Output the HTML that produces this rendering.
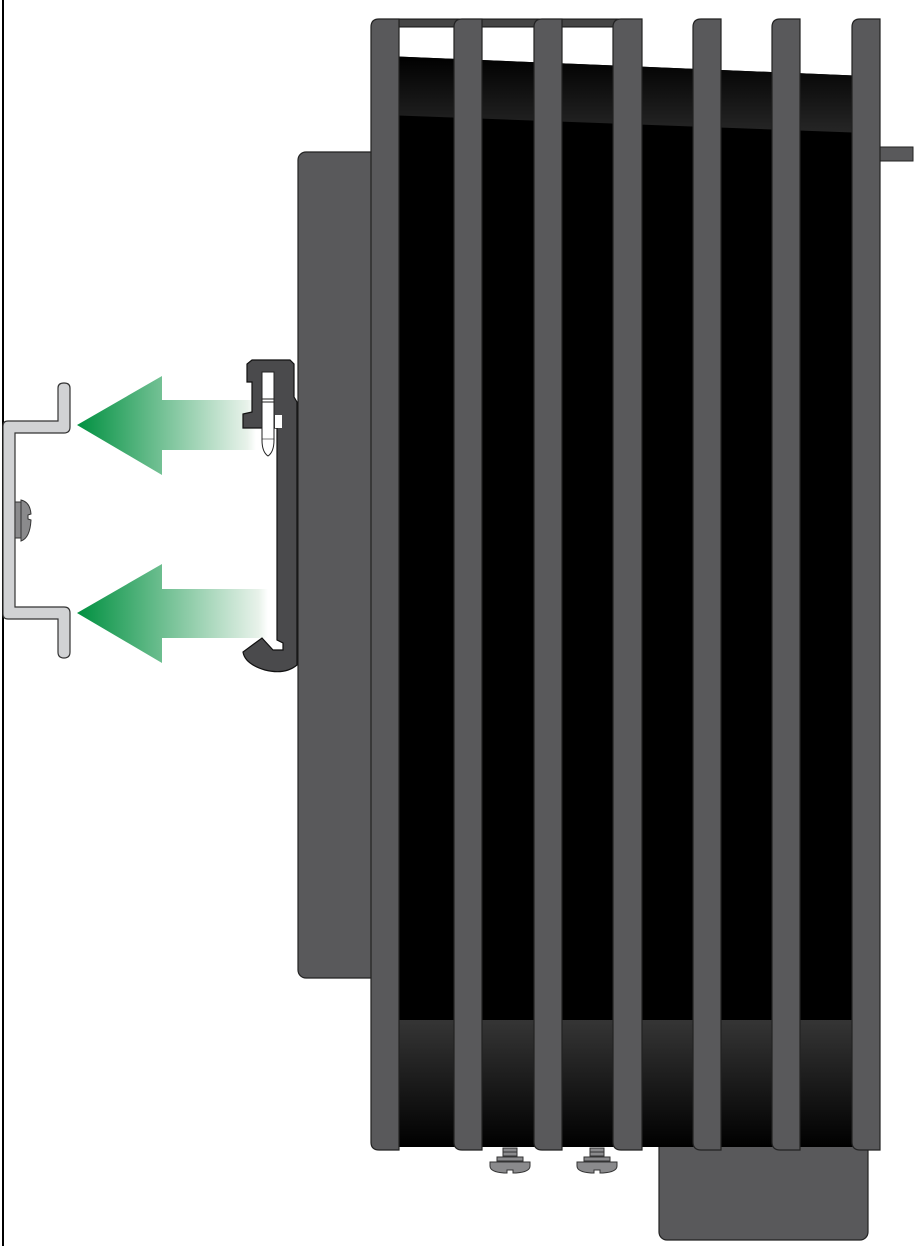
<!DOCTYPE html>
<html><head><style>html,body{margin:0;padding:0;background:#fff}svg{display:block}</style></head>
<body>
<svg width="914" height="1246" viewBox="0 0 914 1246" xmlns="http://www.w3.org/2000/svg">
<defs>
<linearGradient id="ga" x1="1" y1="0" x2="0" y2="0">
<stop offset="0" stop-color="#fff" stop-opacity="1"/>
<stop offset="0.05" stop-color="#e8f2ea"/>
<stop offset="1" stop-color="#009040"/>
</linearGradient>
<linearGradient id="gt" x1="0" y1="0" x2="0" y2="1">
<stop offset="0" stop-color="#000"/><stop offset="1" stop-color="#262626"/>
</linearGradient>
<linearGradient id="gb" x1="0" y1="0" x2="0" y2="1">
<stop offset="0" stop-color="#353535"/><stop offset="1" stop-color="#000"/>
</linearGradient>
</defs>
<!-- wall line -->
<rect x="2" y="0" width="2" height="1246" fill="#000"/>
<!-- bottom block -->
<rect x="659" y="1130" width="209" height="110" rx="8" fill="#59595b" stroke="#222" stroke-width="1.2"/>
<!-- body black -->
<polygon points="385,56 866,76 866,1147 385,1147" fill="#000"/>
<polygon points="385,56 866,76 866,133 385,115" fill="url(#gt)"/>
<rect x="385" y="1020" width="481" height="127" fill="url(#gb)"/>
<!-- top bar -->
<rect x="380" y="19" width="260" height="8" fill="#444" stroke="#111" stroke-width="1"/>
<!-- left plate -->
<rect x="298" y="152" width="80" height="826" rx="8" fill="#59595b" stroke="#222" stroke-width="1.2"/>
<!-- tab -->
<rect x="872" y="147" width="41" height="14" fill="#59595b" stroke="#222" stroke-width="1"/>
<!-- fins -->
<g fill="#59595b" stroke="#222" stroke-width="1.2">
<path d="M371,1140 V27 Q371,19 379,19 H399 V1150 H379 Q371,1150 371,1142Z"/>
<path d="M454,1140 V27 Q454,19 462,19 H482 V1150 H462 Q454,1150 454,1142Z"/>
<path d="M534,1140 V27 Q534,19 542,19 H562 V1150 H542 Q534,1150 534,1142Z"/>
<path d="M613,1140 V27 Q613,19 621,19 H642 V1150 H621 Q613,1150 613,1142Z"/>
<path d="M693,1140 V27 Q693,19 701,19 H721 V1150 H701 Q693,1150 693,1142Z"/>
<path d="M772,1140 V27 Q772,19 780,19 H800 V1150 H780 Q772,1150 772,1142Z"/>
<path d="M852,1140 V27 Q852,19 860,19 H880 V1150 H860 Q852,1150 852,1142Z"/>
</g>
<!-- screws -->
<g fill="#8a8a8c" stroke="#333" stroke-width="1">
<rect x="503" y="1148" width="14" height="4"/><rect x="503" y="1152" width="14" height="4"/>
<rect x="497" y="1157" width="26" height="4"/>
<path d="M490,1162 H530 V1166 Q530,1172 516,1173 H513 V1170 H507 V1173 H504 Q490,1172 490,1166Z"/>
<rect x="590" y="1148" width="14" height="4"/><rect x="590" y="1152" width="14" height="4"/>
<rect x="584" y="1157" width="26" height="4"/>
<path d="M577,1162 H617 V1166 Q617,1172 603,1173 H600 V1170 H594 V1173 H591 Q577,1172 577,1166Z"/>
</g>
<!-- DIN rail -->
<path d="M58,388 Q58,383 64,383 Q70,383 70,388 V427 Q70,433 64,433 H15 V607 H64 Q70,607 70,613 V652 Q70,658 64,658 Q58,658 58,652 V619 H8 Q3,619 3,614 V426 Q3,421 8,421 H58Z" fill="#d1d2d4" stroke="#333" stroke-width="1.2"/>
<!-- rail screw -->
<rect x="15" y="502" width="6" height="36" fill="#8a8a8c" stroke="#333" stroke-width="1"/>
<path d="M21,500 Q30,502 31,514 L28,515 V519 L31,520 Q30,538 21,541Z" fill="#8a8a8c" stroke="#333" stroke-width="1"/>
<!-- arrows -->
<polygon points="77,425 162,376 162,400 256,400 256,450 162,450 162,475" fill="url(#ga)"/>
<polygon points="77,613 162,564 162,589 268,589 268,638 162,638 162,663" fill="url(#ga)"/>
<!-- clip -->
<path d="M252,360 H290 L294,364 V397 L297,402 V665 Q285,675 265,670 Q245,664 243,652 L262,638 L273,650 H283 V643 L277,640 V428 H243 V414 L252,412 V382 H247 V364Z" fill="#4a4a4c" stroke="#111" stroke-width="1.2"/>
<rect x="275" y="415" width="7" height="13" fill="#fff"/>
<path d="M262,372 H274 V440 Q274,452 268,456 Q262,452 262,440Z" fill="#fff" stroke="#222" stroke-width="1"/>
<line x1="262" y1="399" x2="274" y2="399" stroke="#222"/>
<line x1="262" y1="402" x2="274" y2="402" stroke="#222"/>
<line x1="262" y1="439" x2="274" y2="439" stroke="#222" stroke-width="0.6"/>
</svg>
</body></html>
